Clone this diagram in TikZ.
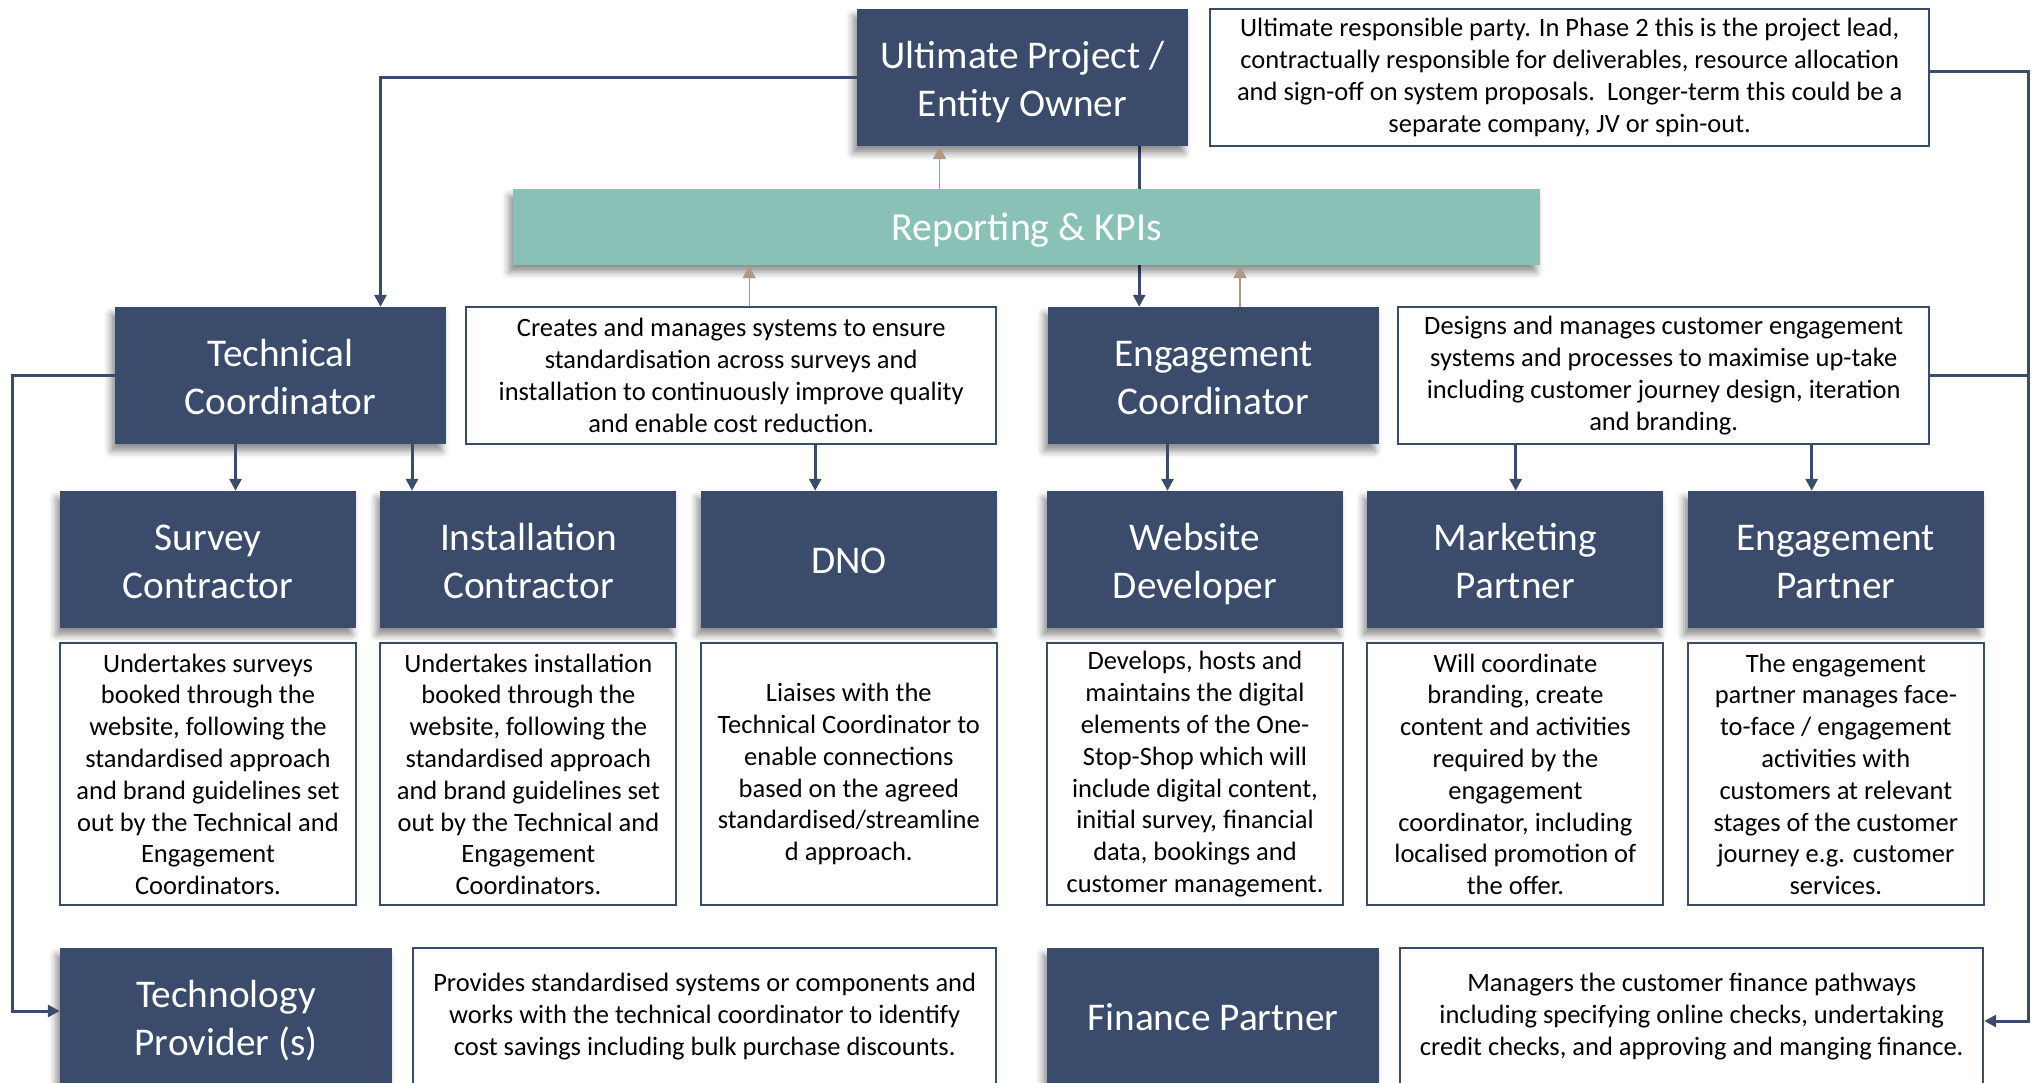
\documentclass[tikz,border=0pt]{standalone}
\usepackage{fontspec}
\setmainfont{Carlito}
\usepackage{xcolor}
\usepackage{tikz}
\usetikzlibrary{arrows.meta, positioning, shadows.blur, backgrounds}
\definecolor{roleblue}{HTML}{3A4B6C}
\definecolor{kpigreen}{HTML}{8AC1B7}
\definecolor{feedtan}{HTML}{B09886}
\tikzset{
    orgchart/.style={x=1pt, y=-1pt, >={Triangle[width=12pt, length=12pt]}},
    % fixed text height/depth keep two-line labels level across boxes
    role/.style={fill=roleblue, text=white, minimum width=331pt, minimum height=137pt,
        inner sep=0pt, align=center, font=\fontsize{39.3}{48}\selectfont,
        text height=88.5pt, text depth=11pt,
        blur shadow={shadow xshift=-4pt, shadow yshift=-7pt, shadow blur radius=7pt, shadow opacity=45}},
    oneline/.style={text height=39pt},
    member/.style={role, minimum width=296pt},
    % white description boxes next to / under the roles
    note/.style={draw=roleblue, line width=2pt, fill=white, minimum height=137pt,
        inner sep=0pt, align=center, font=\fontsize{26.5}{31.8}\selectfont},
    remit/.style={note, minimum width=296pt, minimum height=262pt},
    banner/.style={role, oneline, fill=kpigreen, minimum width=1027pt, minimum height=76pt,
        font=\fontsize{39.8}{48}\selectfont},
    link/.style={draw=roleblue, line width=3pt, ->},
    feed/.style={draw=feedtan, line width=1.3pt, -{Triangle[width=13pt, length=13pt]}},
}

\begin{document}
\begin{tikzpicture}[orgchart]
    \useasboundingbox (0,0) rectangle (2034,1083);
    \clip (0,0) rectangle (2034,1083);

    % top level
    \node[role] (owner) at (1022.5,77.5) {Ultimate Project /\\Entity Owner};
    \node[note, minimum width=719pt, right=21pt of owner] (ownernote)
        {Ultimate responsible party. In Phase 2 this is the project lead,\\
         contractually responsible for deliverables, resource allocation\\
         and sign-off on system proposals.\ \ Longer-term this could be a\\
         separate company, JV or spin-out.};
    \node[banner] (kpi) at (1026.5,227) {Reporting \& KPIs};

    % coordinators
    \node[role] (techco) at (280.5,375.5) {Technical\\Coordinator};
    \node[note, minimum width=530pt, right=19pt of techco] (technote)
        {Creates and manages systems to ensure\\
         standardisation across surveys and\\
         installation to continuously improve quality\\
         and enable cost reduction.};
    \node[role] (engco) at (1213.5,375.5) {Engagement\\Coordinator};
    \node[note, minimum width=531pt, right=18pt of engco] (engnote)
        {Designs and manages customer engagement\\
         systems and processes to maximise up-take\\
         including customer journey design, iteration\\
         and branding.};

    % delivery partners
    \node[member] (survey) at (208,559.5) {Survey\\Contractor};
    \node[member, right=24pt of survey] (install) {Installation\\Contractor};
    \node[member, oneline, right=24pt of install] (dno) {DNO};
    \node[member] (web) at (1195,559.5) {Website\\Developer};
    \node[member, right=24pt of web] (market) {Marketing\\Partner};
    \node[member, right=24pt of market] (engpart) {Engagement\\Partner};

    \node[remit, below=14pt of survey] (surveynote)
        {Undertakes surveys\\booked through the\\website, following the\\standardised approach\\
         and brand guidelines set\\out by the Technical and\\Engagement\\Coordinators.};
    \node[remit, below=14pt of install] (installnote)
        {Undertakes installation\\booked through the\\website, following the\\standardised approach\\
         and brand guidelines set\\out by the Technical and\\Engagement\\Coordinators.};
    \node[remit, below=14pt of dno] (dnonote)
        {Liaises with the\\Technical Coordinator to\\enable connections\\based on the agreed\\
         standardised/streamline\\d approach.};
    \node[remit, below=14pt of web] (webnote)
        {Develops, hosts and\\maintains the digital\\elements of the One-\\Stop-Shop which will\\
         include digital content,\\initial survey, financial\\data, bookings and\\customer management.};
    \node[remit, below=14pt of market] (marketnote)
        {Will coordinate\\branding, create\\content and activities\\required by the\\
         engagement\\coordinator, including\\localised promotion of\\the offer.};
    \node[remit, below=14pt of engpart] (engpartnote)
        {The engagement\\partner manages face-\\to-face / engagement\\activities with\\
         customers at relevant\\stages of the customer\\journey e.g. customer\\services.};

    % bottom row
    \node[role, minimum width=332pt] (tp) at (226,1016.5) {Technology\\Provider (s)};
    \node[note, minimum width=583pt, right=20pt of tp] (tpnote)
        {Provides standardised systems or components and\\
         works with the technical coordinator to identify\\
         cost savings including bulk purchase discounts.};
    \node[role, oneline, minimum width=332pt] (fin) at (1213,1016.5) {Finance Partner};
    \node[note, minimum width=583pt, right=20pt of fin] (finnote)
        {Managers the customer finance pathways\\
         including specifying online checks, undertaking\\
         credit checks, and approving and manging finance.};

    \coordinate (rail) at (2028,0);
    \coordinate (leftrail) at (12.5,0);

    % owner line runs behind the KPI banner
    \begin{scope}[on background layer]
        \draw[link] ([xshift=-49pt]owner.south east) -- ([xshift=-49pt]owner.south east |- engco.north);
    \end{scope}

    \draw[link] (owner.west) -| ([xshift=100pt]techco.north);
    \draw[link] ([xshift=-45pt]techco.south) -- ([xshift=-45pt]techco.south |- survey.north);
    \draw[link] ([xshift=131.5pt]techco.south) -- ([xshift=131.5pt]techco.south |- install.north);
    \draw[link] ([xshift=84pt]technote.south) -- ([xshift=84pt]technote.south |- dno.north);
    \draw[link] ([xshift=-46pt]engco.south) -- ([xshift=-46pt]engco.south |- web.north);
    \draw[link] ([xshift=-148pt]engnote.south) -- ([xshift=-148pt]engnote.south |- market.north);
    \draw[link] ([xshift=148pt]engnote.south) -- ([xshift=148pt]engnote.south |- engpart.north);

    \draw[link] (techco.west) -| ([yshift=5.5pt]leftrail |- tp.west) -- ([yshift=5.5pt]tp.west);
    \draw[link] ([yshift=5.5pt]ownernote.east) -| ([yshift=-4.5pt]rail |- finnote.east) -- ([yshift=-4.5pt]finnote.east);
    \draw[link, -] (engnote.east) -- (engnote.east -| rail);

    % reporting feeds
    \draw[feed] ([xshift=-83pt]owner.south |- kpi.north) -- ([xshift=-83pt]owner.south);
    \draw[feed] ([xshift=18pt]technote.north) -- ([xshift=18pt]technote.north |- kpi.south);
    \draw[feed] ([xshift=26.5pt]engco.north) -- ([xshift=26.5pt]engco.north |- kpi.south);
\end{tikzpicture}
\end{document}
